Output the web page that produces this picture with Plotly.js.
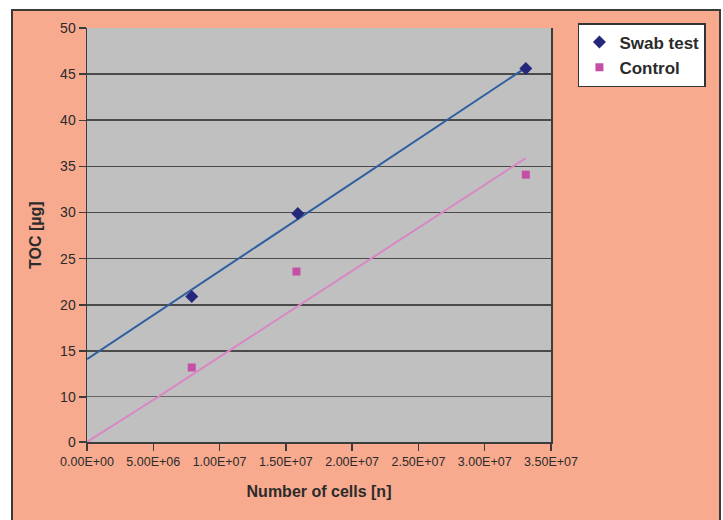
<!DOCTYPE html>
<html>
<head>
<meta charset="utf-8">
<script src="https://cdn.plot.ly/plotly-3.0.1.min.js"></script>
<style>
  html, body { margin: 0; padding: 0; background: #ffffff; }
  #frame {
    position: absolute; left: 11px; top: 9px;
    width: 706px; height: 515px;
    background: #F8AA8F;
    border: 2px solid #3a3a3a; border-bottom: none;
  }
  #chart { width: 706px; height: 511px; }
</style>
</head>
<body>
<div id="frame"><div id="chart"></div></div>
<script>
// ---- data ----
const seriesNames = ["Swab test", "Control"];
const swabX = [7.9e6, 1.59e7, 3.31e7];
const swabY = [20.9, 29.9, 45.6];
const controlX = [7.9e6, 1.58e7, 3.31e7];
const controlY = [13.2, 23.6, 34.1];
// trendlines as drawn in the reference
const swabTrendX = [0, 3.31e7];
const swabTrendY = [14.1, 45.7];
const controlTrendX = [0, 5.35e6, 3.31e7];
const controlTrendY = [0, 10, 35.9];
// axis ticks
const xTickVals = [0, 5e6, 1e7, 1.5e7, 2e7, 2.5e7, 3e7, 3.5e7];
const xTickText = ["0.00E+00", "5.00E+06", "1.00E+07", "1.50E+07", "2.00E+07", "2.50E+07", "3.00E+07", "3.50E+07"];
const yTickValsUpper = [10, 15, 20, 25, 30, 35, 40, 45, 50];
const yTickValsLower = [0];
const xTitle = "Number of cells [n]";
const yTitle = "TOC [µg]";

const FONT = "'Liberation Sans', Arial, sans-serif";
const TXT = "#2b2b2b";
const swabLineColor = "#2F5FA0";
const swabMarkColor = "#25287A";
const ctrlLineColor = "#D987C4";
const ctrlMarkColor = "#C54FA6";

const traces = [];
["y", "y2"].forEach(ya => {
  traces.push({x: swabTrendX, y: swabTrendY, xaxis: "x", yaxis: ya, mode: "lines",
    line: {color: swabLineColor, width: 2}, showlegend: false, hoverinfo: "skip"});
  traces.push({x: controlTrendX, y: controlTrendY, xaxis: "x", yaxis: ya, mode: "lines",
    line: {color: ctrlLineColor, width: 2}, showlegend: false, hoverinfo: "skip"});
});
traces.push({x: swabX, y: swabY, xaxis: "x", yaxis: "y", mode: "markers", name: seriesNames[0],
  marker: {symbol: "diamond", size: 10, color: swabMarkColor}});
traces.push({x: controlX, y: controlY, xaxis: "x", yaxis: "y", mode: "markers", name: seriesNames[1],
  marker: {symbol: "square", size: 8, color: ctrlMarkColor}});

const split = 45 / 414;
const axisCommon = {
  showline: true, linecolor: "#3c3c3c", linewidth: 1.5,
  ticks: "outside", ticklen: 7, tickwidth: 1.5, tickcolor: "#3c3c3c",
  tickfont: {family: FONT, size: 14, color: TXT},
  zeroline: false, fixedrange: true
};

const layout = {
  width: 706, height: 511,
  margin: {l: 74, r: 168, t: 17, b: 80},
  paper_bgcolor: "#F8AA8F",
  plot_bgcolor: "#C0C0C0",
  showlegend: true,
  legend: {
    x: 1.058, y: 1.012, xanchor: "left", yanchor: "top",
    bgcolor: "#ffffff", bordercolor: "#333333", borderwidth: 1.5,
    font: {family: FONT, size: 17, color: TXT, weight: "bold"},
    itemwidth: 30, tracegroupgap: 0
  },
  xaxis: Object.assign({}, axisCommon, {
    range: [0, 3.5e7], anchor: "y2",
    tickvals: xTickVals, ticktext: xTickText,
    tickfont: {family: FONT, size: 12.5, color: TXT},
    showgrid: false, mirror: false,
    title: {text: xTitle, font: {family: FONT, size: 16, color: TXT, weight: "bold"}, standoff: 18}
  }),
  yaxis: Object.assign({}, axisCommon, {
    domain: [split, 1], range: [10, 50], anchor: "x",
    tickvals: yTickValsUpper,
    showgrid: true, gridcolor: "#4a4a4a", gridwidth: 1.6, mirror: true
  }),
  yaxis2: Object.assign({}, axisCommon, {
    domain: [0, split], range: [0, 10], anchor: "x",
    tickvals: yTickValsLower,
    showgrid: false, mirror: true
  }),
  shapes: [
    {type: "line", xref: "x domain", yref: "y", x0: 0, x1: 1, y0: 10, y1: 10,
     line: {color: "#4a4a4a", width: 1.6}, layer: "below"}
  ],
  annotations: [
    {text: yTitle, xref: "paper", yref: "paper", x: -0.112, y: 0.5,
     xanchor: "center", yanchor: "middle", textangle: -90, showarrow: false,
     font: {family: FONT, size: 16, color: TXT, weight: "bold"}}
  ]
};

Plotly.newPlot("chart", traces, layout, {displayModeBar: false, staticPlot: true});
</script>
</body>
</html>
